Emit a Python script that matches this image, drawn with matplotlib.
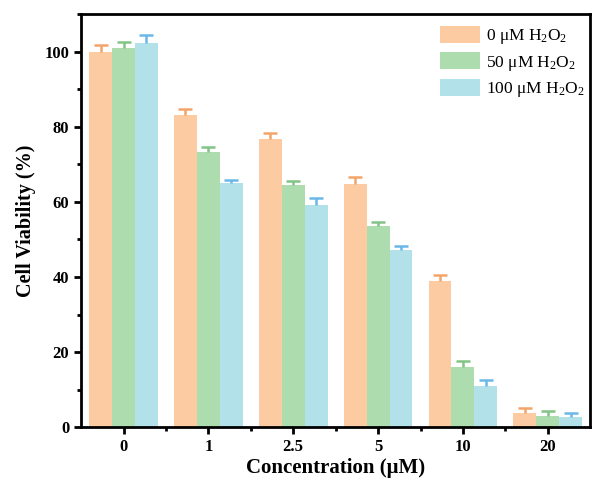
import matplotlib
matplotlib.use("Agg")
import matplotlib.pyplot as plt
import numpy as np
from matplotlib.ticker import MultipleLocator, FixedLocator

categories = ["0", "1", "2.5", "5", "10", "20"]
series_names = ["0 \u03bcM H$_2$O$_2$", "50 \u03bcM H$_2$O$_2$", "100 \u03bcM H$_2$O$_2$"]
vals_0 = [100.0, 83.0, 76.8, 64.8, 39.0, 3.8]
vals_50 = [101.0, 73.3, 64.5, 53.6, 16.0, 3.0]
vals_100 = [102.4, 65.0, 59.2, 47.2, 10.9, 2.6]
err_0 = [1.9, 1.8, 1.5, 1.9, 1.6, 1.2]
err_50 = [1.6, 1.3, 1.1, 1.1, 1.5, 1.2]
err_100 = [2.0, 0.8, 1.7, 1.1, 1.6, 1.3]

bar_colors = ["#FDCBA2", "#ADDDAE", "#B3E1EA"]
err_colors = ["#F2A56A", "#82C486", "#6BB8E8"]

plt.rcParams["font.family"] = ["Liberation Serif", "DejaVu Serif"]
plt.rcParams["mathtext.fontset"] = "custom"
plt.rcParams["mathtext.rm"] = "Liberation Serif"
plt.rcParams["mathtext.it"] = "Liberation Serif:italic"

fig = plt.figure(figsize=(5.92, 4.86), dpi=100)
ax = fig.add_axes([0.137, 0.121, 0.86, 0.85])

x = np.arange(len(categories))
w = 0.27
allv = [vals_0, vals_50, vals_100]
alle = [err_0, err_50, err_100]
for i in range(3):
    pos = x + (i - 1) * w
    ax.bar(pos, allv[i], width=w, color=bar_colors[i], label=series_names[i], zorder=2)
    eb = ax.errorbar(pos, allv[i], yerr=[np.zeros(len(x)), alle[i]], fmt="none",
                     ecolor=err_colors[i], elinewidth=1.8, capsize=5, capthick=1.8, zorder=3)
    caps = eb[1]
    if len(caps) >= 2:
        caps[0].set_visible(False)

ax.set_xlim(-0.5, 5.5)
ax.set_ylim(0, 110)
ax.set_xticks(x)
ax.set_xticklabels(categories)
ax.xaxis.set_minor_locator(FixedLocator(x[:-1] + 0.5))
ax.set_yticks([0, 20, 40, 60, 80, 100])
ax.yaxis.set_minor_locator(MultipleLocator(10))

for s in ax.spines.values():
    s.set_linewidth(2)
ax.tick_params(which="major", direction="out", length=5, width=2, labelsize=12)
ax.tick_params(which="minor", direction="out", length=3, width=2)
for lab in ax.get_xticklabels() + ax.get_yticklabels():
    lab.set_fontweight("bold")

ax.set_xlabel("Concentration (\u03bcM)", fontsize=15, fontweight="bold", labelpad=2)
ax.set_ylabel("Cell Viability (%)", fontsize=14.5, fontweight="bold", labelpad=6)

leg = ax.legend(loc="upper right", bbox_to_anchor=(1.007, 0.993), fontsize=12.5,
                frameon=False, handlelength=2.3, handleheight=1.15, handletextpad=0.35,
                borderpad=0.0, labelspacing=0.35)

fig.savefig("out.png", dpi=100)
